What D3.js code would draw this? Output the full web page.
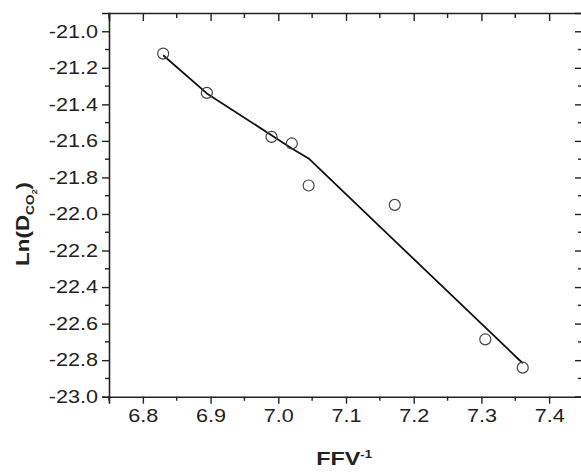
<!DOCTYPE html>
<html>
<head>
<meta charset="utf-8">
<script src="https://cdn.jsdelivr.net/npm/d3@7"></script>
<style>
  html, body { margin: 0; padding: 0; background: #fff; }
  svg { display: block; }
  text { font-family: "Liberation Sans", Arial, sans-serif; fill: #222; }
</style>
</head>
<body>
<svg id="chart" width="581" height="473"></svg>
<script>
// Measured diffusion data: inverse fractional free volume vs ln(D_CO2)
const ffvInv = [6.830, 6.8945, 6.990, 7.020, 7.0448, 7.172, 7.3057, 7.361];
const lnD    = [-21.122, -21.337, -21.578, -21.614, -21.844, -21.950, -22.686, -22.841];

// Fitted curve evaluated at the same abscissae
const fitX = [6.830, 6.8945, 6.990, 7.020, 7.0448, 7.172, 7.3057, 7.361];
const fitY = [-21.131, -21.340, -21.569, -21.642, -21.696, -22.147, -22.621, -22.817];

// Axis ticks
const xTicks = [6.8, 6.9, 7.0, 7.1, 7.2, 7.3, 7.4];
const yTicks = [-21.0, -21.2, -21.4, -21.6, -21.8, -22.0, -22.2, -22.4, -22.6, -22.8, -23.0];
const xMinor = [6.75, 6.85, 6.95, 7.05, 7.15, 7.25, 7.35, 7.45];
const yMinor = [-21.1, -21.3, -21.5, -21.7, -21.9, -22.1, -22.3, -22.5, -22.7, -22.9];

const svg = d3.select("#chart");
const plotL = 109, plotT = 13, plotR = 583, plotB = 396.7;

const x = d3.scaleLinear().domain([6.75, 7.45]).range([plotL, plotR]);
const y = d3.scaleLinear().domain([-23.0, -20.9]).range([plotB, plotT]);

const ink = "#222";
const TS = 1.2; // horizontal stretch of the wide label face

function styleAxis(g) {
  g.select(".domain").attr("stroke", ink).attr("stroke-width", 1.6);
  g.selectAll(".tick line").attr("stroke", ink).attr("stroke-width", 1.4);
}

// bottom axis with labels
const gx = svg.append("g").attr("transform", `translate(0,${plotB})`)
  .call(d3.axisBottom(x).tickValues(xTicks).tickSize(7).tickPadding(6).tickFormat(d3.format(".1f")));
styleAxis(gx);
gx.selectAll(".tick text")
  .attr("font-size", 18).attr("fill", "#333")
  .attr("font-family", "Liberation Sans, Arial, sans-serif")
  .attr("transform", `scale(${TS},1)`);
gx.append("g").selectAll("line").data(xMinor).join("line")
  .attr("x1", d => x(d)).attr("x2", d => x(d)).attr("y1", 0).attr("y2", 4)
  .attr("stroke", ink).attr("stroke-width", 1.4);

// left axis with labels
const gy = svg.append("g").attr("transform", `translate(${plotL},0)`)
  .call(d3.axisLeft(y).tickValues(yTicks).tickSize(7).tickPadding(4).tickFormat(d => d3.format(".1f")(d).replace("−", "-")));
styleAxis(gy);
gy.selectAll(".tick text")
  .attr("font-size", 18).attr("fill", "#333")
  .attr("font-family", "Liberation Sans, Arial, sans-serif")
  .attr("x", -11 / TS)
  .attr("transform", `scale(${TS},1)`);
gy.append("g").selectAll("line").data(yMinor).join("line")
  .attr("x1", -4).attr("x2", 0).attr("y1", d => y(d)).attr("y2", d => y(d))
  .attr("stroke", ink).attr("stroke-width", 1.4);

// top axis (ticks inward, no labels)
const gt = svg.append("g").attr("transform", `translate(0,${plotT})`)
  .call(d3.axisTop(x).tickValues(xTicks).tickSize(-8).tickFormat(""));
styleAxis(gt);
gt.append("g").selectAll("line").data(xMinor).join("line")
  .attr("x1", d => x(d)).attr("x2", d => x(d)).attr("y1", 0).attr("y2", 5)
  .attr("stroke", ink).attr("stroke-width", 1.4);

// right axis (ticks inward, no labels)
const gr = svg.append("g").attr("transform", `translate(${plotR},0)`)
  .call(d3.axisRight(y).tickValues(yTicks).tickSize(-8).tickFormat(""));
styleAxis(gr);
gr.append("g").selectAll("line").data(yMinor).join("line")
  .attr("x1", -5).attr("x2", 0).attr("y1", d => y(d)).attr("y2", d => y(d))
  .attr("stroke", ink).attr("stroke-width", 1.4);

// fitted line (piecewise, with the break near 7.05)
const line = d3.line().x((d, i) => x(fitX[i])).y(d => y(d));
svg.append("path").datum(fitY)
  .attr("d", line).attr("fill", "none").attr("stroke", "#111").attr("stroke-width", 1.8)
  .attr("stroke-linejoin", "round");

// data points (open circles)
svg.append("g").selectAll("circle").data(lnD).join("circle")
  .attr("cx", (d, i) => x(ffvInv[i])).attr("cy", d => y(d)).attr("r", 5.5)
  .attr("fill", "none").attr("stroke", "#444").attr("stroke-width", 1.2);

// x axis title: FFV^-1
const xt = svg.append("text")
  .attr("transform", `translate(${(plotL + plotR) / 2 - 2},465) scale(1.3,1)`)
  .attr("text-anchor", "middle").attr("font-weight", "bold").attr("font-size", 18).attr("fill", "#111");
xt.append("tspan").text("FFV");
xt.append("tspan").attr("dy", -7).attr("font-size", 10).text("-1");

// y axis title: Ln(D_CO2)
const yt = svg.append("text")
  .attr("transform", `translate(29,224) rotate(-90) scale(1.25,1)`)
  .attr("text-anchor", "middle").attr("font-weight", "bold").attr("font-size", 18).attr("fill", "#111");
yt.append("tspan").text("Ln(D");
yt.append("tspan").attr("dy", 5).attr("font-size", 11).text("CO");
yt.append("tspan").attr("dy", 3).attr("font-size", 7).text("2");
yt.append("tspan").attr("dy", -8).text(")");
</script>
</body>
</html>
